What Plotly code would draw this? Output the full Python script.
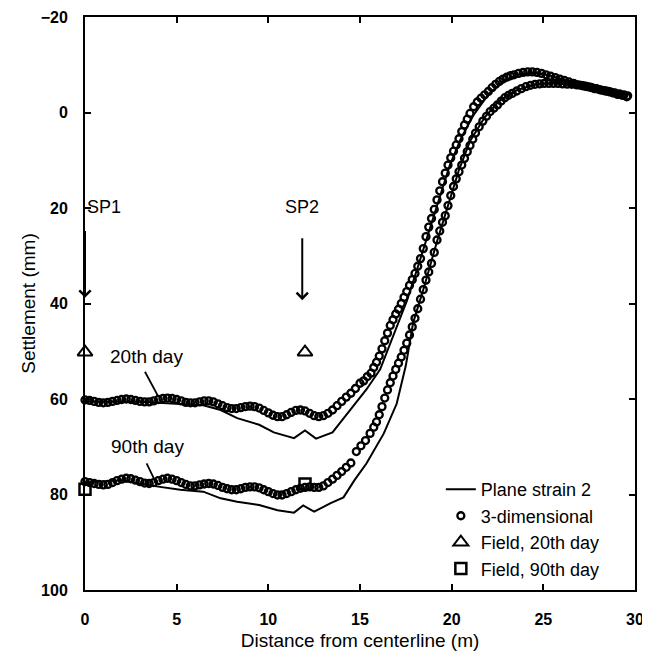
import plotly.graph_objects as go

# ---------------- data ----------------
# 3-dimensional analysis, 20th day
x3d_20 = [0.0, 0.25, 0.5, 0.75, 1.0, 1.25, 1.5, 1.75, 2.0, 2.25, 2.5, 2.75, 3.0, 3.25, 3.5, 3.75,
          4.0, 4.25, 4.5, 4.75, 5.0, 5.25, 5.5, 5.75, 6.0, 6.25, 6.5, 6.75, 7.0, 7.25, 7.5, 7.75,
          8.0, 8.25, 8.5, 8.75, 9.0, 9.25, 9.5, 9.75, 10.0, 10.25, 10.5, 10.75, 11.0, 11.25, 11.5,
          11.75, 12.0, 12.25, 12.5, 12.75, 13.0, 13.25, 13.5, 13.75, 14.0, 14.25, 14.5, 14.75, 15.0,
          15.2, 15.4, 15.6, 15.75, 15.9, 16.05, 16.2, 16.35, 16.5, 16.65,
          16.8, 16.95, 17.1, 17.25, 17.4, 17.55, 17.7, 17.85, 18.0, 18.15,
          18.3, 18.45, 18.6, 18.75, 18.9, 19.05, 19.2, 19.35, 19.5, 19.65,
          19.8, 19.95, 20.1, 20.25, 20.4, 20.55, 20.7, 20.85, 21.0, 21.2,
          21.4, 21.6, 21.8, 22.0, 22.2, 22.4, 22.6, 22.8, 23.0, 23.2,
          23.4, 23.65, 23.9, 24.15, 24.4, 24.65, 24.9, 25.15, 25.4, 25.65,
          25.9, 26.15, 26.4, 26.65, 26.9, 27.15, 27.4, 27.65, 27.9, 28.15,
          28.4, 28.65, 28.9, 29.15, 29.4, 29.6]
y3d_20 = [60.2, 60.3, 60.5, 60.7, 60.8, 60.7, 60.5, 60.3, 60.1, 60.0,
          60.1, 60.3, 60.5, 60.6, 60.6, 60.4, 60.1, 59.9, 59.8, 59.9,
          60.1, 60.4, 60.7, 60.8, 60.8, 60.6, 60.4, 60.4, 60.6, 61.0,
          61.4, 61.8, 62.0, 62.0, 61.8, 61.6, 61.5, 61.6, 61.9, 62.4,
          62.9, 63.4, 63.7, 63.7, 63.3, 62.8, 62.4, 62.3, 62.5, 63.0,
          63.5, 63.7, 63.5, 63.0, 62.3, 61.4, 60.5, 59.6, 58.8, 57.8,
          56.7,
          56.2, 55.3, 54.6, 53.4, 52.3, 51.0, 49.5, 47.8, 46.2, 44.6,
          43.4, 42.2, 41.2, 40.0, 38.7, 37.5, 36.2, 35.0, 33.7, 32.2,
          30.6, 28.5, 26.0, 24.0, 22.2, 20.3, 18.3, 16.4, 14.5, 12.7,
          11.0, 9.5, 8.1, 6.8, 5.5, 4.0, 2.6, 1.4, 0.2, -1.2,
          -2.2, -3.0, -3.7, -4.4, -5.2, -5.9, -6.5, -7.0, -7.4, -7.7,
          -7.9, -8.2, -8.4, -8.5, -8.5, -8.4, -8.2, -7.9, -7.6, -7.3,
          -7.0, -6.7, -6.4, -6.1, -5.8, -5.6, -5.4, -5.2, -5.0, -4.7,
          -4.5, -4.3, -4.1, -3.9, -3.7, -3.5]

# 3-dimensional analysis, 90th day
x3d_90 = [0.0, 0.25, 0.5, 0.75, 1.0, 1.25, 1.5, 1.75, 2.0, 2.25, 2.5, 2.75, 3.0, 3.25, 3.5, 3.75,
          4.0, 4.25, 4.5, 4.75, 5.0, 5.25, 5.5, 5.75, 6.0, 6.25, 6.5, 6.75, 7.0, 7.25, 7.5, 7.75,
          8.0, 8.25, 8.5, 8.75, 9.0, 9.25, 9.5, 9.75, 10.0, 10.25, 10.5, 10.75, 11.0, 11.25, 11.5,
          11.75, 12.0, 12.25, 12.5, 12.75, 13.0, 13.25, 13.5, 13.75, 14.0, 14.25, 14.5,
          14.8, 15.05, 15.3, 15.55, 15.75, 15.9, 16.05, 16.2, 16.35, 16.5,
          16.65, 16.8, 16.95, 17.1, 17.25, 17.4, 17.55, 17.7, 17.85, 18.0,
          18.15, 18.3, 18.45, 18.6, 18.75, 18.9, 19.05, 19.2, 19.35, 19.5,
          19.65, 19.8, 19.95, 20.1, 20.25, 20.4, 20.55, 20.7, 20.85, 21.0,
          21.15, 21.3, 21.5, 21.7, 21.9, 22.1, 22.3, 22.5, 22.7, 22.9,
          23.1, 23.3, 23.55, 23.8, 24.05, 24.3, 24.55, 24.8, 25.05, 25.3,
          25.55, 25.8, 26.05, 26.3, 26.55, 26.8, 27.05, 27.3, 27.55, 27.8,
          28.05, 28.3, 28.55, 28.8, 29.05, 29.3, 29.55]
y3d_90 = [77.3, 77.5, 77.7, 77.9, 78.0, 77.9, 77.5, 77.1, 76.8, 76.6,
          76.7, 77.0, 77.3, 77.6, 77.7, 77.5, 77.1, 76.8, 76.6, 76.8,
          77.1, 77.5, 77.9, 78.2, 78.2, 78.0, 77.8, 77.7, 77.8, 78.1,
          78.5, 78.8, 79.0, 79.0, 78.8, 78.5, 78.4, 78.4, 78.6, 79.0,
          79.4, 79.8, 80.1, 80.1, 79.8, 79.4, 79.0, 78.7, 78.5, 78.4,
          78.5, 78.5, 78.2, 77.5, 76.8, 76.0, 75.2, 74.3, 73.4,
          71.0, 69.8, 68.7, 67.2, 65.9, 64.8, 63.3, 61.6, 59.8, 58.1,
          56.6, 55.2, 53.8, 52.5, 51.2, 49.8, 48.3, 46.6, 44.9, 43.1,
          41.1, 39.1, 37.1, 35.1, 33.4, 31.6, 29.3, 26.7, 24.8, 23.0,
          21.6, 19.5, 17.4, 15.5, 13.9, 12.4, 11.0, 9.6, 8.2, 6.9,
          5.6, 4.3, 3.0, 1.8, 0.8, -0.2, -0.9, -1.6, -2.4, -3.1,
          -3.6, -4.0, -4.5, -5.0, -5.4, -5.7, -5.9, -6.0, -6.1, -6.1,
          -6.1, -6.1, -6.0, -5.95, -5.9, -5.8, -5.7, -5.5, -5.3, -5.0,
          -4.8, -4.6, -4.4, -4.1, -3.8, -3.6, -3.3]

# Plane strain 2, 20th day
xps_20 = [0.0, 3.0, 6.45, 7.4, 8.3, 9.5, 10.3, 11.4, 12.0, 12.6, 13.5, 14.4, 15.35, 16.1, 16.8,
          17.55, 18.1, 18.7, 19.3, 19.9, 20.5, 21.2, 22.0, 22.8, 23.6, 24.4, 25.2, 26.2, 27.3,
          28.4, 29.6]
yps_20 = [60.5, 60.6, 61.3, 62.3, 64.0, 65.4, 67.0, 68.2, 66.6, 68.3, 67.0, 62.5, 58.0, 53.8, 47.0,
          39.5, 33.0, 25.5, 18.0, 11.0, 5.5, 0.5, -3.8, -6.5, -7.9, -8.3, -7.9, -6.8, -5.6,
          -4.6, -3.6]

# Plane strain 2, 90th day
xps_90 = [0.0, 2.0, 3.9, 5.2, 6.45, 7.4, 8.3, 9.5, 10.5, 11.4, 11.9, 12.5, 13.4, 14.1, 14.7, 15.35,
          16.3, 17.0, 17.5, 17.9, 18.5, 19.2, 19.8, 20.4, 21.0, 21.8, 22.6, 23.5, 24.5, 25.5,
          26.5, 27.5, 28.5, 29.6]
yps_90 = [77.5, 77.0, 78.3, 79.0, 79.4, 80.8, 81.5, 82.2, 83.3, 83.8, 82.3, 83.6, 81.8, 80.6, 77.0, 73.5,
          67.2, 61.0, 53.0, 44.0, 36.5, 27.0, 19.5, 12.0, 6.0, 1.0, -2.5, -4.6, -5.8, -6.2,
          -5.9, -5.3, -4.5, -3.4]

# Field measurements
x_field_20 = [0.0, 12.0]
y_field_20 = [50.2, 50.2]
x_field_90 = [0.0, 12.0]
y_field_90 = [78.9, 77.8]

x_ticks = [0, 5, 10, 15, 20, 25, 30]
y_ticks = [-20, 0, 20, 40, 60, 80, 100]

# settlement-plate labels and arrows: (label, x, text y, arrow start y, arrow tip y)
plates = [("SP1", 0.0, 19.8, 24.5, 38.8), ("SP2", 11.85, 19.8, 26.0, 39.3)]
# day labels: (text, x, y, pointer x0, y0, x1, y1)
day_labels = [("20th day", 3.33, 51.2, 3.27, 54.3, 4.0, 59.5),
              ("90th day", 3.40, 70.0, 3.36, 73.5, 3.8, 77.0)]

FONT = "Liberation Sans, Arial, sans-serif"

fig = go.Figure()

line_style = dict(color="black", width=2)
fig.add_trace(go.Scatter(x=xps_20, y=yps_20, mode="lines", line=line_style,
                         name="Plane strain 2", legendgroup="ps", cliponaxis=False))
fig.add_trace(go.Scatter(x=xps_90, y=yps_90, mode="lines", line=line_style,
                         name="Plane strain 2", legendgroup="ps", showlegend=False, cliponaxis=False))

circ = dict(symbol="circle-open", size=7, color="black", line=dict(width=2.3, color="black"))
fig.add_trace(go.Scatter(x=x3d_20, y=y3d_20, mode="markers", marker=circ,
                         name="3-dimensional", legendgroup="3d", cliponaxis=False))
fig.add_trace(go.Scatter(x=x3d_90, y=y3d_90, mode="markers", marker=circ,
                         name="3-dimensional", legendgroup="3d", showlegend=False, cliponaxis=False))

fig.add_trace(go.Scatter(x=x_field_20, y=y_field_20, mode="markers",
                         marker=dict(symbol="triangle-up-open", size=13, color="black",
                                     line=dict(width=2)),
                         name="Field, 20th day", cliponaxis=False))
fig.add_trace(go.Scatter(x=x_field_90, y=y_field_90, mode="markers",
                         marker=dict(symbol="square-open", size=11, color="black",
                                     line=dict(width=2.5)),
                         name="Field, 90th day", cliponaxis=False))

annotations = []
for label, px_, ty, y0, y1 in plates:
    annotations.append(dict(x=px_, y=ty, xref="x", yref="y", text=label, showarrow=False,
                            xanchor="left" if label == "SP1" else "center", yanchor="middle",
                            font=dict(family=FONT, size=18, color="black")))
    annotations.append(dict(x=px_, y=y1, ax=px_, ay=y0, xref="x", yref="y", axref="x", ayref="y",
                            text="", showarrow=True, arrowhead=4, arrowsize=1.1, arrowwidth=2,
                            arrowcolor="black"))
shapes = []
for text, tx, ty, x0, y0, x1, y1 in day_labels:
    annotations.append(dict(x=tx, y=ty, xref="x", yref="y", text=text, showarrow=False,
                            xanchor="center", yanchor="middle",
                            font=dict(family=FONT, size=19, color="black")))
    shapes.append(dict(type="line", xref="x", yref="y", x0=x0, y0=y0, x1=x1, y1=y1,
                       line=dict(color="black", width=1.8)))

axis_common = dict(showline=True, linecolor="black", linewidth=2, mirror="ticks",
                   ticks="inside", ticklen=6, tickwidth=1.5, tickcolor="black",
                   showgrid=False, zeroline=False, automargin=False,
                   tickfont=dict(family=FONT, size=16, color="black", weight="bold"))

# the page body adds an 8 px offset, so the figure is 642 x 645
fig.update_layout(
    width=642, height=645,
    margin=dict(l=77, r=15, t=9, b=63),
    paper_bgcolor="white", plot_bgcolor="white",
    font=dict(family=FONT, color="black"),
    xaxis=dict(range=[0, 30], tickvals=x_ticks, ticklabelstandoff=14,
               title=dict(text="Distance from centerline (m)", standoff=6,
                          font=dict(family=FONT, size=19, color="black")),
               **axis_common),
    yaxis=dict(range=[100, -20], tickvals=y_ticks, ticklabelstandoff=12,
               title=dict(text="Settlement (mm)", standoff=0,
                          font=dict(family=FONT, size=19, color="black")),
               **axis_common),
    legend=dict(x=0.647, y=0.005, xanchor="left", yanchor="bottom",
                bgcolor="rgba(0,0,0,0)", borderwidth=0, tracegroupgap=0,
                font=dict(family=FONT, size=18, color="black")),
    annotations=annotations,
    shapes=shapes,
)

fig.write_html("out.html")
